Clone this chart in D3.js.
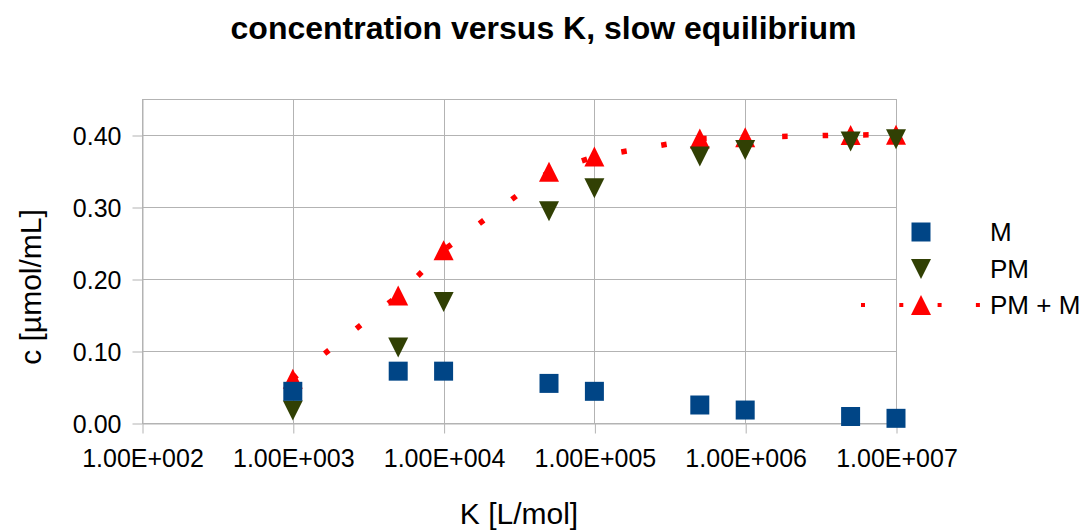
<!DOCTYPE html>
<html>
<head>
<meta charset="utf-8">
<script src="https://cdn.jsdelivr.net/npm/d3@7"></script>
<style>
  html, body { margin: 0; padding: 0; background: #fff; }
  svg { display: block; font-family: "Liberation Sans", Arial, sans-serif; }
</style>
</head>
<body>
<svg id="chart" width="1087" height="532"></svg>
<script>
// ---- data ----
const kValues = [1e3, 5e3, 1e4, 5e4, 1e5, 5e5, 1e6, 5e6, 1e7];
const mValues = [0.044, 0.072, 0.072, 0.055, 0.044, 0.025, 0.018, 0.009, 0.0065];
const pmValues = [0.0175, 0.105, 0.168, 0.294, 0.326, 0.370, 0.379, 0.391, 0.394];
const pmmValues = [0.0615, 0.177, 0.240, 0.349, 0.370, 0.395, 0.397, 0.400, 0.4005];
const xTickValues = [1e2, 1e3, 1e4, 1e5, 1e6, 1e7];
const xTickLabels = ["1.00E+002", "1.00E+003", "1.00E+004", "1.00E+005", "1.00E+006", "1.00E+007"];
const yTickValues = [0, 0.1, 0.2, 0.3, 0.4];
const seriesNames = ["M", "PM", "PM + M"];
const titleText = "concentration versus K, slow equilibrium";
const xTitle = "K [L/mol]";
const yTitle = "c [µmol/mL]";

// ---- layout ----
const W = 1087, H = 532;
const plot = { left: 142, right: 896, top: 99, bottom: 423 };
const colors = { M: "#004586", PM: "#314004", PMM: "#ff0000", grid: "#b3b3b3" };

const svg = d3.select("#chart");
const x = d3.scaleLog().domain([1e2, 1e7]).range([plot.left, plot.right]);
const y = d3.scaleLinear().domain([0, 0.45]).range([plot.bottom, plot.top]);

// grid
const g = svg.append("g");
g.selectAll("line.hg").data(yTickValues).join("line")
  .attr("x1", plot.left).attr("x2", plot.right)
  .attr("y1", d => Math.round(y(d)) + 0.5).attr("y2", d => Math.round(y(d)) + 0.5)
  .attr("stroke", colors.grid).attr("stroke-width", 1);
g.selectAll("line.vg").data(xTickValues).join("line")
  .attr("y1", plot.top).attr("y2", plot.bottom)
  .attr("x1", d => Math.round(x(d)) + 0.5).attr("x2", d => Math.round(x(d)) + 0.5)
  .attr("stroke", colors.grid).attr("stroke-width", 1);
g.append("rect")
  .attr("x", plot.left + 0.5).attr("y", plot.top + 0.5)
  .attr("width", plot.right - plot.left).attr("height", plot.bottom - plot.top)
  .attr("fill", "none").attr("stroke", colors.grid);

// axes
const xAxis = d3.axisBottom(x).tickValues(xTickValues)
  .tickFormat((d, i) => xTickLabels[i]).tickSizeInner(10).tickSizeOuter(0).tickPadding(16);
const xa = svg.append("g").attr("transform", `translate(0.5,${plot.bottom + 0.5})`).call(xAxis);
const yAxis = d3.axisLeft(y).tickValues(yTickValues)
  .tickFormat(d3.format(".2f")).tickSizeInner(10).tickSizeOuter(0).tickPadding(11);
const ya = svg.append("g").attr("transform", `translate(${plot.left + 0.5},0.5)`).call(yAxis);
[xa, ya].forEach(a => {
  a.select(".domain").attr("stroke", colors.grid);
  a.selectAll(".tick line").attr("stroke", colors.grid);
  a.selectAll(".tick text").attr("fill", "#000")
    .style("font-family", '"Liberation Sans", Arial, sans-serif').style("font-size", "25px");
});
xa.selectAll(".tick text").attr("dy", "0.71em");
ya.selectAll(".tick text").attr("dy", "0.36em");

// series: PM + M line
const pts = kValues.map((k, i) => [k, pmmValues[i]]);
const line = d3.line().x(d => x(d[0])).y(d => y(d[1]));
svg.append("path").datum(pts).attr("d", line)
  .attr("fill", "none").attr("stroke", colors.PMM).attr("stroke-width", 5.5)
  .attr("stroke-dasharray", "5.5 35").attr("stroke-dashoffset", 0);

const S = 20;
const upTri = `M0,${-S/2}L${S/2},${S/2}L${-S/2},${S/2}Z`;
const downTri = `M${-S/2},${-S/2}L${S/2},${-S/2}L0,${S/2}Z`;
const sq = `M${-S/2+0.5},${-S/2+0.5}h${S-1}v${S-1}h${-(S-1)}Z`;

svg.append("g").selectAll("path").data(kValues).join("path")
  .attr("d", upTri).attr("fill", colors.PMM)
  .attr("transform", (d, i) => `translate(${x(d)},${y(pmmValues[i])})`);
svg.append("g").selectAll("path").data(kValues).join("path")
  .attr("d", downTri).attr("fill", colors.PM)
  .attr("transform", (d, i) => `translate(${x(d)},${y(pmValues[i])})`);
svg.append("g").selectAll("path").data(kValues).join("path")
  .attr("d", sq).attr("fill", colors.M)
  .attr("transform", (d, i) => `translate(${x(d)},${y(mValues[i])})`);

// legend
const legY = [232, 269, 305];
const legX = 921, legTextX = 990;
const leg = svg.append("g");
leg.append("path").attr("d", sq).attr("fill", colors.M).attr("transform", `translate(${legX},${legY[0]})`);
leg.append("path").attr("d", downTri).attr("fill", colors.PM).attr("transform", `translate(${legX},${legY[1]})`);
leg.append("line").attr("x1", 861).attr("x2", 983).attr("y1", legY[2]).attr("y2", legY[2])
  .attr("stroke", colors.PMM).attr("stroke-width", 4).attr("stroke-dasharray", "4 34.3");
leg.append("path").attr("d", upTri).attr("fill", colors.PMM).attr("transform", `translate(${legX},${legY[2]})`);
leg.selectAll("text").data(seriesNames).join("text")
  .attr("x", legTextX).attr("y", (d, i) => legY[i]).attr("dy", "0.36em")
  .style("font-size", "26px").attr("fill", "#000").text(d => d);

// titles
svg.append("text").attr("x", W / 2).attr("y", 39).attr("text-anchor", "middle")
  .style("font-size", "32px").style("font-weight", "bold").attr("fill", "#000").text(titleText);
svg.append("text").attr("x", (plot.left + plot.right) / 2).attr("y", 524).attr("text-anchor", "middle")
  .style("font-size", "30px").attr("fill", "#000").text(xTitle);
svg.append("text").attr("transform", "translate(41,287) rotate(-90)").attr("text-anchor", "middle")
  .style("font-size", "30px").attr("fill", "#000").text(yTitle);
</script>
</body>
</html>
